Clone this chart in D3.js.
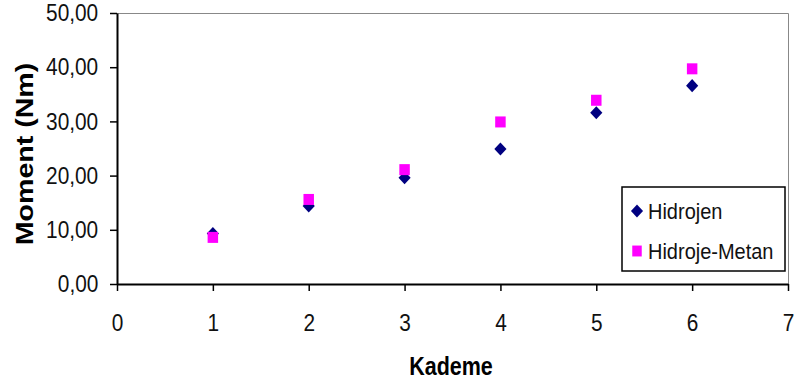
<!DOCTYPE html>
<html>
<head>
<meta charset="utf-8">
<script src="https://cdn.jsdelivr.net/npm/d3@7"></script>
<style>
  body { margin: 0; background: #fff; }
  text { font-family: "Liberation Sans", Arial, sans-serif; }
  .tick text { transform-box: fill-box; transform-origin: center; transform: scale(0.97, 1.1); }
</style>
</head>
<body>
<div class="canvas"></div>
<script>
// data
const kademe = [1, 2, 3, 4, 5, 6]
const hidrojen = [9.3, 14.4, 19.6, 24.9, 31.6, 36.6]
const hidrojeMetan = [8.6, 15.6, 21.1, 29.9, 33.9, 39.7]
const xTicks = [0, 1, 2, 3, 4, 5, 6, 7]
const yTicks = [0, 10, 20, 30, 40, 50]
const seriesNames = ['Hidrojen', 'Hidroje-Metan']

const svg = d3.select('.canvas')
    .append('svg')
    .attr('width', 795)
    .attr('height', 387)

const x = d3.scaleLinear().domain([0, 7]).range([117, 788])
const y = d3.scaleLinear().domain([0, 50]).range([284, 13])

const fmt = d => d3.format('.2f')(d).replace('.', ',')

// grey frame top / right
svg.append('path')
    .attr('d', `M${x(0)},${y(50) + 0.5}H${x(7) + 0.5}V${y(0)}`)
    .attr('fill', 'none')
    .attr('stroke', '#888')
    .attr('stroke-width', 1)

const yAxis = svg.append('g')
    .attr('transform', `translate(${x(0)},0)`)
    .call(d3.axisLeft(y).tickValues(yTicks).tickFormat(fmt).tickSize(7).tickSizeOuter(0).tickPadding(11))
const xAxis = svg.append('g')
    .attr('transform', `translate(0,${y(0)})`)
    .call(d3.axisBottom(x).tickValues(xTicks).tickFormat(d3.format('d')).tickSize(7).tickSizeOuter(0).tickPadding(24))

svg.selectAll('.domain').attr('stroke', '#000').attr('stroke-width', 2)
svg.selectAll('.tick line').attr('stroke', '#000').attr('stroke-width', 1.5)
svg.selectAll('.tick text')
    .attr('fill', '#111')
    .style('font-size', '21.5px')
    .style('font-family', '"Liberation Sans", Arial, sans-serif')

// axis titles
svg.append('text')
    .attr('transform', 'translate(451,375) scale(0.86,1)')
    .attr('text-anchor', 'middle')
    .style('font-size', '25px')
    .style('font-weight', 'bold')
    .text('Kademe')

svg.append('text')
    .attr('transform', 'translate(33,154) rotate(-90) scale(1.19,1)')
    .attr('text-anchor', 'middle')
    .style('font-size', '24px')
    .style('font-weight', 'bold')
    .text('Moment (Nm)')

const diamond = d3.symbol().type(d3.symbolSquare).size(74)
const square = d3.symbol().type(d3.symbolSquare).size(110)

svg.append('g').selectAll('path')
    .data(kademe)
    .enter()
    .append('path')
    .attr('d', diamond)
    .attr('transform', (d, i) => `translate(${x(d)},${y(hidrojen[i])}) scale(1,1.08) rotate(45)`)
    .attr('fill', '#000080')

svg.append('g').selectAll('path')
    .data(kademe)
    .enter()
    .append('path')
    .attr('d', square)
    .attr('transform', (d, i) => `translate(${x(d)},${y(hidrojeMetan[i])}) scale(1,1.05)`)
    .attr('fill', '#ff00ff')

// legend
const legend = svg.append('g')
legend.append('rect')
    .attr('x', 622).attr('y', 187)
    .attr('width', 163).attr('height', 84)
    .attr('fill', '#fff')
    .attr('stroke', '#000')
    .attr('stroke-width', 1.5)

const items = legend.selectAll('g.item')
    .data(seriesNames)
    .enter()
    .append('g')
    .attr('transform', (d, i) => `translate(637,${211 + i * 40})`)
items.append('path')
    .attr('d', (d, i) => i === 0 ? diamond() : d3.symbol().type(d3.symbolSquare).size(90)())
    .attr('transform', (d, i) => i === 0 ? 'scale(1,1.08) rotate(45)' : 'scale(1,1.15)')
    .attr('fill', (d, i) => i === 0 ? '#000080' : '#ff00ff')
items.append('text')
    .attr('x', 11)
    .attr('y', 7.5)
    .attr('transform', 'scale(1,1.08)')
    .style('font-size', '20px')
    .attr('fill', '#111')
    .text(d => d)
</script>
</body>
</html>
